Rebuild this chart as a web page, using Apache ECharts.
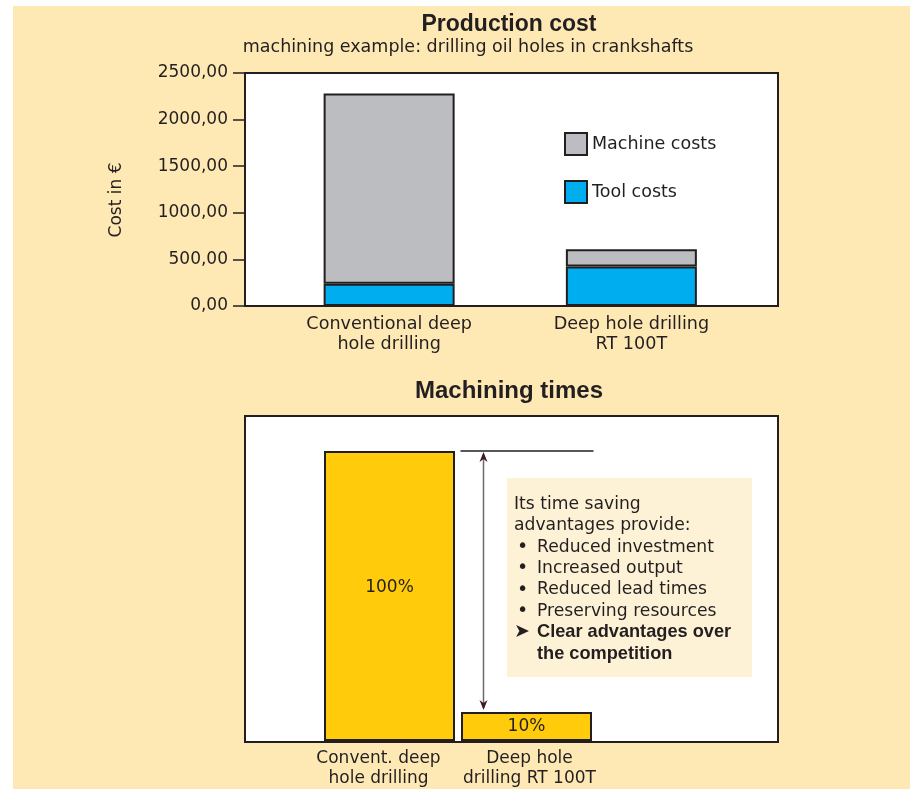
<!DOCTYPE html>
<html>
<head>
<meta charset="utf-8">
<script src="https://cdn.jsdelivr.net/npm/echarts@6/dist/echarts.min.js"></script>
<style>
html,body{margin:0;padding:0;background:#ffffff;}
#main{width:910px;height:789px;}
</style>
</head>
<body>
<div id="main"></div>
<script>
// ---- data ----
const costCategories = ['Conventional deep\nhole drilling', 'Deep hole drilling\nRT 100T'];
const toolCosts = [240, 425];
const machineCosts = [2040, 185];
const costTicks = [0, 500, 1000, 1500, 2000, 2500];

const timeCategories = ['Convent. deep\nhole drilling', 'Deep hole\ndrilling RT 100T'];
const timeShares = [100, 10];

const titleCost = 'Production cost';
const subtitleCost = 'machining example: drilling oil holes in crankshafts';
const titleTime = 'Machining times';
const costAxisName = 'Cost in €';
const noteLines = [
  {t: 'Its time saving', b: false, mark: ''},
  {t: 'advantages provide:', b: false, mark: ''},
  {t: 'Reduced investment', b: false, mark: '•'},
  {t: 'Increased output', b: false, mark: '•'},
  {t: 'Reduced lead times', b: false, mark: '•'},
  {t: 'Preserving resources', b: false, mark: '•'},
  {t: 'Clear advantages over', b: true, mark: '➤'},
  {t: 'the competition', b: true, mark: ''}
];

// ---- style ----
const INK = '#231F20';
const FONT = 'DejaVu Sans';
const BEIGE = '#FEE9B4';

const chart = echarts.init(document.getElementById('main'), null, {renderer: 'canvas'});

const option = {
  backgroundColor: '#ffffff',
  animation: false,
  textStyle: {fontFamily: FONT, color: INK},
  legend: {
    data: ['Machine costs', 'Tool costs'],
    orient: 'vertical',
    left: 564, top: 132, padding: 0,
    itemWidth: 22, itemHeight: 22, itemGap: 24,
    icon: 'rect',
    itemStyle: {borderColor: INK, borderWidth: 2},
    textStyle: {fontFamily: FONT, fontSize: 17.5, color: INK},
    selectedMode: false
  },
  grid: [
    {left: 245, right: 132, top: 73, bottom: 483, show: true, backgroundColor: '#ffffff', borderColor: INK, borderWidth: 2, z: 1},
    {left: 268, right: 157.5, top: 73, bottom: 483},
    {left: 245, right: 132, top: 416, bottom: 47, show: true, backgroundColor: '#ffffff', borderColor: INK, borderWidth: 2, z: 1},
    {left: 321, right: 315, top: 451, bottom: 47}
  ],
  xAxis: [
    {type: 'value', gridIndex: 0, show: false},
    {type: 'category', gridIndex: 1, data: costCategories,
      axisLine: {show: false}, axisTick: {show: false},
      axisLabel: {interval: 0, fontFamily: FONT, fontSize: 17.6, color: INK, lineHeight: 20, margin: 8}},
    {type: 'value', gridIndex: 2, show: false},
    {type: 'category', gridIndex: 3, data: timeCategories,
      axisLine: {show: false}, axisTick: {show: false},
      axisLabel: {interval: 0, hideOverlap: false, fontFamily: FONT, fontSize: 17, color: INK, lineHeight: 20, margin: 8,
        formatter: function (v, i) { var k = i === 0 ? 'a' : 'b'; return v.split('\n').map(function (s) { return '{' + k + '|' + s + '}'; }).join('\n'); },
        rich: {
          a: {fontFamily: FONT, fontSize: 17, color: INK, lineHeight: 20, padding: [0, 22, 0, 0]},
          b: {fontFamily: FONT, fontSize: 17, color: INK, lineHeight: 20, padding: [0, 0, 0, 6]}
        }}}
  ],
  yAxis: [
    {type: 'value', gridIndex: 0, min: costTicks[0], max: costTicks[costTicks.length - 1], interval: 500,
      axisLine: {show: false},
      axisTick: {show: true, length: 12, lineStyle: {color: INK, width: 1.5}},
      axisLabel: {fontFamily: FONT, fontSize: 17, color: INK, margin: 17,
        formatter: function (v) { return v.toFixed(2).replace('.', ','); }},
      splitLine: {show: true, lineStyle: {color: '#333', width: 1.2}}},
    {type: 'value', gridIndex: 1, min: 0, max: 2500, show: false, splitLine: {show: false}},
    {type: 'value', gridIndex: 2, show: false, splitLine: {show: false}},
    {type: 'value', gridIndex: 3, min: 0, max: 100, show: false, splitLine: {show: false}}
  ],
  series: [
    {name: 'Tool costs', type: 'bar', xAxisIndex: 1, yAxisIndex: 1, stack: 'cost', data: toolCosts,
      barWidth: 131, itemStyle: {color: '#00AEEF', borderColor: INK, borderWidth: 2}, z: 3},
    {name: 'Machine costs', type: 'bar', xAxisIndex: 1, yAxisIndex: 1, stack: 'cost', data: machineCosts,
      barWidth: 131, itemStyle: {color: '#BCBDC1', borderColor: INK, borderWidth: 2}, z: 3},
    {name: 'Machining time', type: 'bar', xAxisIndex: 3, yAxisIndex: 3, data: timeShares,
      barWidth: 131, itemStyle: {color: '#FFCB0A', borderColor: INK, borderWidth: 2}, z: 3,
      label: {show: true, position: 'inside', fontFamily: FONT, fontSize: 17, color: INK,
        formatter: function (p) { return p.value + '%'; }},
      labelLayout: function (p) { return p.dataIndex === 0 ? {dy: -8} : {}; }}
  ]
};
chart.setOption(option);

// ---- decorations positioned from the axes ----
const y100 = chart.convertToPixel({yAxisIndex: 3}, timeShares[0]);
const y10 = chart.convertToPixel({yAxisIndex: 3}, timeShares[1]);
const xC2 = chart.convertToPixel({xAxisIndex: 3}, timeCategories[1]);
const lineX0 = xC2 - 66, lineX1 = xC2 + 67;
const arrowX = xC2 - 43;

const noteRich = {
  n: {fontFamily: FONT, fontSize: 17.2, color: INK, lineHeight: 21.3},
  m: {fontFamily: FONT, fontSize: 19, color: INK, lineHeight: 21.3, width: 20, padding: [0, 0, 0, 3]},
  bb: {fontFamily: 'Liberation Sans', fontSize: 18.2, color: INK, lineHeight: 21.3, fontWeight: 'bold'},
  bm: {fontFamily: FONT, fontSize: 19, color: INK, lineHeight: 21.3, width: 23, padding: [0, 0, 0, 0]}
};
const noteText = noteLines.map(function (l, i) {
  if (i < 2) return '{n|' + l.t + '}';
  if (l.b) return '{bm|' + (l.mark || ' ') + '}{bb|' + l.t + '}';
  return '{m|' + l.mark + '}{n|' + l.t + '}';
}).join('\n');

chart.setOption({
  graphic: [
    {type: 'rect', z: -10, shape: {x: 13, y: 6, width: 910, height: 800}, style: {fill: BEIGE}, silent: true},
    {type: 'text', z: 10, x: 509, y: 25, style: {text: titleCost, fontFamily: 'Liberation Sans', fontWeight: 'bold', fontSize: 23, fill: INK, textAlign: 'center', textVerticalAlign: 'middle'}},
    {type: 'text', z: 10, x: 468, y: 47, style: {text: subtitleCost, fontFamily: FONT, fontSize: 17.5, fill: INK, textAlign: 'center', textVerticalAlign: 'middle'}},
    {type: 'text', z: 10, x: 117, y: 200, rotation: Math.PI / 2, style: {text: costAxisName, fontFamily: FONT, fontSize: 17, fill: INK, textAlign: 'center', textVerticalAlign: 'middle'}},
    {type: 'text', z: 10, x: 509, y: 391, style: {text: titleTime, fontFamily: 'Liberation Sans', fontWeight: 'bold', fontSize: 24, fill: INK, textAlign: 'center', textVerticalAlign: 'middle'}},
    {type: 'line', z: 10, shape: {x1: lineX0, y1: y100, x2: lineX1, y2: y100}, style: {stroke: INK, lineWidth: 1.5}},
    {type: 'line', z: 10, shape: {x1: arrowX, y1: y100 + 4, x2: arrowX, y2: y10 - 4}, style: {stroke: '#6b6b6b', lineWidth: 1.5}},
    {type: 'polygon', z: 11, shape: {points: [[arrowX, y100 + 1], [arrowX - 4, y100 + 11], [arrowX, y100 + 8], [arrowX + 4, y100 + 11]]}, style: {fill: '#3D1A24'}},
    {type: 'polygon', z: 11, shape: {points: [[arrowX, y10 - 2], [arrowX - 4, y10 - 12], [arrowX, y10 - 9], [arrowX + 4, y10 - 12]]}, style: {fill: '#3D1A24'}},
    {type: 'rect', z: 9, shape: {x: 507, y: 478, width: 245, height: 199}, style: {fill: '#FEF2D6'}},
    {type: 'text', z: 10, x: 514, y: 494, style: {text: noteText, rich: noteRich, fontFamily: FONT, fontSize: 17, fill: INK, textVerticalAlign: 'top'}}
  ]
});
</script>
</body>
</html>
